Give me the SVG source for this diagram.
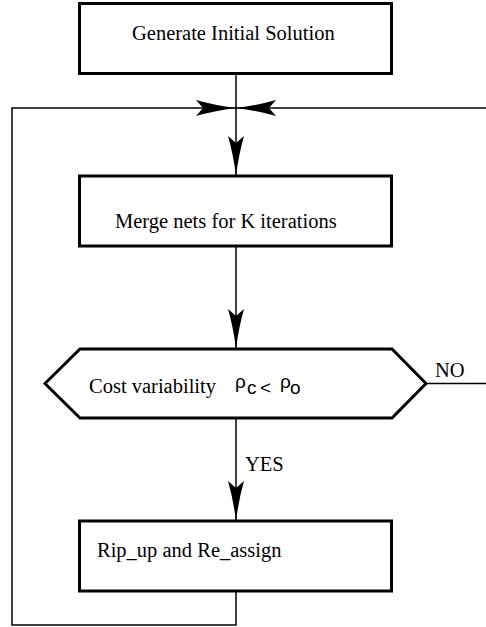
<svg xmlns="http://www.w3.org/2000/svg" width="486" height="627" viewBox="0 0 486 627">
  <style>
    .box { fill: #ffffff; stroke: #000000; stroke-width: 3; }
    .wire { fill: none; stroke: #000000; stroke-width: 1.5; }
    .lbl { font-family: "Liberation Serif", "Times New Roman", serif; font-size: 20.5px; fill: #000000; }
    .sym { font-family: "Liberation Sans", Arial, sans-serif; font-size: 19px; fill: #000000; }
  </style>
  <defs>
    <marker id="head" markerUnits="userSpaceOnUse" viewBox="-42 -10 44 20" markerWidth="44" markerHeight="20" refX="0" refY="0" orient="auto">
      <path d="M0,0 Q-22,-2.8 -40,-8 L-33,0 L-40,8 Q-22,2.8 0,0 Z" fill="#000000"/>
    </marker>
  </defs>

  <g id="connectors">
    <path class="wire" d="M236,73 V176" marker-end="url(#head)"/>
    <path class="wire" d="M236,246 V349" marker-end="url(#head)"/>
    <path class="wire" d="M236,418 V521" marker-end="url(#head)"/>
    <path class="wire" d="M236,592 V625 H12 V108 H236" marker-end="url(#head)"/>
    <path class="wire" d="M486,108 H236" marker-end="url(#head)"/>
    <path class="wire" d="M426,383.5 H486"/>
    <text class="lbl" x="435" y="376.5">NO</text>
    <text class="lbl" x="245" y="471">YES</text>
  </g>

  <g id="init">
    <rect class="box" x="79.5" y="3.5" width="312" height="70"/>
    <text class="lbl" x="132" y="39.5">Generate Initial Solution</text>
  </g>

  <g id="merge">
    <rect class="box" x="79.5" y="176" width="312" height="70"/>
    <text class="lbl" x="115" y="228">Merge nets for K iterations</text>
  </g>

  <g id="check">
    <polygon class="box" points="45,383.5 80,349 392,349 426,383.5 392,418 80,418"/>
    <text class="lbl" x="89" y="393">Cost variability</text>
    <!-- rho_c < rho_o, with lowered subscripts -->
    <text class="sym" x="235" y="388">ρ<tspan x="247" y="394">c</tspan><tspan x="260" y="394">&lt;</tspan><tspan x="280" y="388">ρ</tspan><tspan x="290" y="394">o</tspan></text>
  </g>

  <g id="ripup">
    <rect class="box" x="79.5" y="521" width="312" height="70"/>
    <text class="lbl" x="97" y="557">Rip_up and Re_assign</text>
  </g>
</svg>
